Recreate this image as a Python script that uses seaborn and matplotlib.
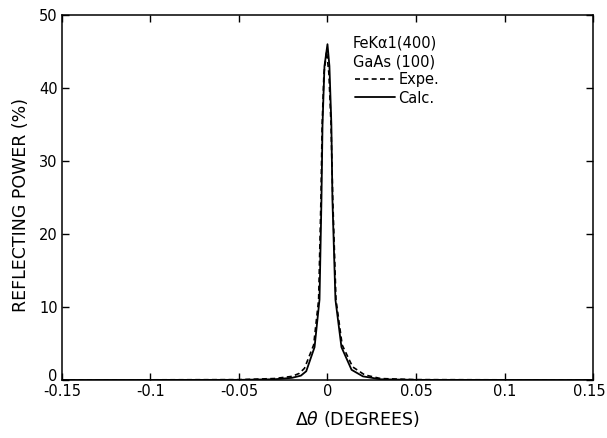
# Rocking curve of GaAs(100), FeKa1 (400) reflection: experiment vs calculation

import numpy as np
import pandas as pd
import seaborn as sns
import matplotlib
matplotlib.use("Agg")
import matplotlib.pyplot as plt
from matplotlib.transforms import ScaledTranslation

# values
calc_dtheta = [-0.15, -0.05, -0.03, -0.02, -0.015, -0.012, -0.0073, -0.0045, -0.0034,
               -0.0028, -0.0017, 0.0, 0.0011, 0.0022, 0.0028, 0.0045, 0.0079, 0.0136,
               0.02, 0.03, 0.05, 0.15]
calc_power = [0.0, 0.02, 0.1, 0.3, 0.6, 1.2, 4.5, 11.0, 24.7,
              35.0, 43.0, 46.0, 43.0, 35.0, 24.7, 11.0, 4.5, 1.4,
              0.5, 0.1, 0.02, 0.0]

expe_dtheta = [-0.15, -0.05, -0.03, -0.02, -0.016, -0.013, -0.0078, -0.005, -0.0037,
               -0.003, -0.002, -0.0005, 0.0008, 0.002, 0.003, 0.0048, 0.0083, 0.0142,
               0.021, 0.03, 0.05, 0.15]
expe_power = [0.0, 0.05, 0.2, 0.5, 0.9, 1.6, 4.8, 11.0, 24.7,
              35.0, 42.0, 45.0, 42.0, 35.0, 24.7, 11.0, 4.8, 1.8,
              0.7, 0.2, 0.05, 0.0]

x_ticks = [-0.15, -0.1, -0.05, 0, 0.05, 0.1, 0.15]
x_tick_labels = ["-0.15", "-0.1", "-0.05", "0", "0.05", "0.1", "0.15"]
y_ticks = [0, 10, 20, 30, 40, 50]

df_calc = pd.DataFrame({"dtheta": calc_dtheta, "power": calc_power})
df_expe = pd.DataFrame({"dtheta": expe_dtheta, "power": expe_power})

sns.set_style("ticks")
plt.rcParams["font.family"] = ["DejaVu Sans"]
plt.rcParams["text.color"] = "black"
plt.rcParams["axes.labelcolor"] = "black"

fig = plt.figure(figsize=(6.07, 4.38), dpi=100)
ax = fig.add_axes([0.102, 0.1324, 0.875, 0.8334])

sns.lineplot(data=df_expe, x="dtheta", y="power", ax=ax, color="black",
             linestyle=(0, (3, 2)), linewidth=1.2, label="Expe.")
sns.lineplot(data=df_calc, x="dtheta", y="power", ax=ax, color="black",
             linestyle="-", linewidth=1.3, label="Calc.")

ax.set_xlim(-0.15, 0.15)
ax.set_ylim(0, 50)
ax.set_xticks(x_ticks)
ax.set_xticklabels(x_tick_labels)
ax.set_yticks(y_ticks)
ax.tick_params(direction="in", top=True, right=True, length=5, width=1,
               labelsize=10.5, colors="black")
ax.tick_params(axis="x", pad=3)
ax.tick_params(axis="y", pad=3)
for s in ax.spines.values():
    s.set_linewidth(1.1)
    s.set_color("black")

# keep the last x label inside the figure, lift the y "0" off the x labels
last = ax.get_xticklabels()[-1]
last.set_transform(last.get_transform() + ScaledTranslation(-4 / 100, 0, fig.dpi_scale_trans))
zero = ax.get_yticklabels()[0]
zero.set_transform(zero.get_transform() + ScaledTranslation(0, 5 / 100, fig.dpi_scale_trans))

ax.set_xlabel(r"$\Delta\theta$ (DEGREES)", fontsize=12.5)
ax.xaxis.set_label_coords(0.556, -0.08)
ax.set_ylabel("REFLECTING POWER (%)", fontsize=12.5)
ax.yaxis.set_label_coords(-0.06, 0.479)

# legend block
ax.text(0.548, 0.923, "FeK\u03b11(400)", transform=ax.transAxes, fontsize=10.5, va="center")
ax.text(0.548, 0.871, "GaAs (100)", transform=ax.transAxes, fontsize=10.5, va="center")
ax.legend(loc="upper left", bbox_to_anchor=(0.54, 0.86), frameon=False,
          borderaxespad=0, fontsize=10.5, handlelength=2.8, handletextpad=0.2,
          labelspacing=0.25)

fig.savefig("out.png", dpi=100)
